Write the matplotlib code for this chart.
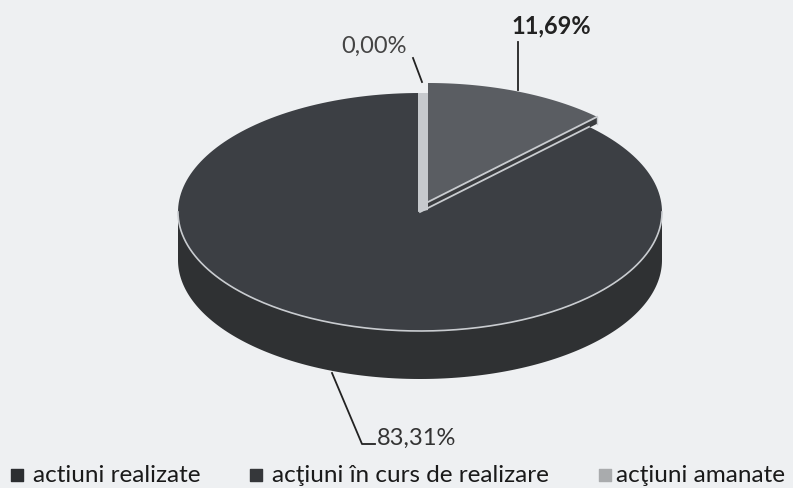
import numpy as np
import matplotlib.pyplot as plt
from matplotlib.patches import Polygon

# date
categorii = ['actiuni realizate', 'acţiuni în curs de realizare', 'acţiuni amanate']
valori = [83.31, 11.69, 0.00]
etichete = ['83,31%', '11,69%', '0,00%']

# culori (scan alb-negru)
BG = '#eef0f2'
DARK_TOP = '#3c3f44'
DARK_SIDE = '#2f3133'
GRAY_TOP = '#5a5d62'
GRAY_SIDE = '#3a3c3f'
EDGE = '#c9ccd0'

plt.rcParams['font.family'] = ['Lato', 'DejaVu Sans']

fig = plt.figure(figsize=(7.93, 4.88), dpi=100, facecolor=BG)
ax = fig.add_axes([0, 0, 1, 1])
ax.set_xlim(0, 793)
ax.set_ylim(488, 0)
ax.axis('off')
ax.set_facecolor(BG)

# geometrie pie 3D (pixeli)
cx, cy = 420, 212
rx, ry = 242, 119
depth = 48
expl = (8, -10)  # felia in curs e scoasa putin


def pt(t, ox=0, oy=0, dz=0):
    return (cx + ox + rx * np.cos(t), cy + oy - ry * np.sin(t) + dz)


def arc(t0, t1, ox=0, oy=0, dz=0, n=200):
    ts = np.linspace(t0, t1, n)
    return [pt(t, ox, oy, dz) for t in ts]


total = sum(valori)
# pornim de la ora 12, sens orar: in curs, apoi realizate, apoi amanate (0)
t_start = np.pi / 2
a_curs = valori[1] / total * 2 * np.pi
a_real = valori[0] / total * 2 * np.pi
t_curs_end = t_start - a_curs
t_real_end = t_curs_end - a_real

# perete lateral felie mare (partea din fata)
front = arc(np.pi, 2 * np.pi)
side = front + arc(2 * np.pi, np.pi, dz=depth)
ax.add_patch(Polygon(side, closed=True, facecolor=DARK_SIDE, edgecolor='none', zorder=1))

# fata de sus felie mare
top_real = [(cx, cy)] + arc(t_curs_end, t_real_end)
ax.add_patch(Polygon(top_real, closed=True, facecolor=DARK_TOP, edgecolor='none', zorder=2))

# felia "in curs" - perete radial vizibil + fata de sus
ox, oy = expl
r_end = pt(t_curs_end, ox, oy)
wall = [(cx + ox, cy + oy), r_end, (r_end[0], r_end[1] + 7), (cx + ox, cy + oy + 7)]
ax.add_patch(Polygon(wall, closed=True, facecolor=GRAY_SIDE, edgecolor='none', zorder=3))
top_curs = [(cx + ox, cy + oy)] + arc(t_start, t_curs_end, ox, oy)
ax.add_patch(Polygon(top_curs, closed=True, facecolor=GRAY_TOP, edgecolor='none', zorder=4))

# felia 0,00% - doar o fasie deschisa
strip = [(cx - 2, cy - ry), (cx + ox, cy - ry), (cx + ox, cy + oy + 8), (cx - 2, cy)]
ax.add_patch(Polygon(strip, closed=True, facecolor='#c6c9cd', edgecolor='none', zorder=3))

# muchii luminoase
fx, fy = zip(*front)
ax.plot(fx, fy, color=EDGE, lw=1.2, zorder=5)
e1 = pt(t_curs_end)
ax.plot([cx, e1[0]], [cy, e1[1]], color=EDGE, lw=1.3, zorder=5)
ax.plot([cx + ox, r_end[0]], [cy + oy, r_end[1]], color=EDGE, lw=1.3, zorder=5)
ax.plot([r_end[0], r_end[0]], [r_end[1], r_end[1] + 7], color=EDGE, lw=1.0, zorder=5)

# etichete cu linii de legatura
ax.plot([332, 362, 375], [373, 444, 444], color='#222222', lw=1.3, zorder=6)
ax.text(377, 445, etichete[0], fontsize=17, color='#333333', va='baseline', ha='left')
ax.plot([518, 518], [42, 90], color='#222222', lw=1.3, zorder=6)
ax.text(551, 26, etichete[1], fontsize=17, fontweight='bold', color='#222222', va='center', ha='center')
ax.plot([413, 422], [58, 82], color='#222222', lw=1.3, zorder=6)
ax.text(374, 46, etichete[2], fontsize=17, color='#444444', va='center', ha='center')

# legenda manuala
leg_mark = [17, 256, 605]
leg_text = [33, 272, 616]
leg_col = ['#2c2e31', '#35373a', '#a9abad']
for xm, xt, c, lab in zip(leg_mark, leg_text, leg_col, categorii):
    ax.scatter([xm], [475], marker='s', s=75, color=c, zorder=6)
    ax.text(xt, 482, lab, fontsize=17.5, color='#1a1a1a', va='baseline', ha='left')

fig.savefig('out.png', dpi=100, facecolor=BG)
